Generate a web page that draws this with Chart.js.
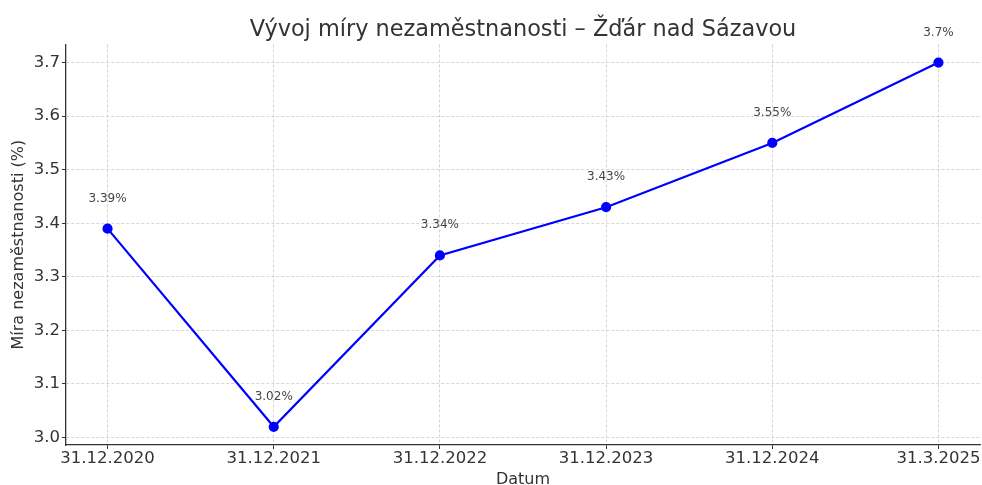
<!DOCTYPE html>
<html>
<head>
<meta charset="utf-8">
<script src="https://cdn.jsdelivr.net/npm/chart.js@4.4.1/dist/chart.umd.min.js"></script>
<style>
  html, body { margin: 0; padding: 0; background: #fff; }
  #wrap { width: 982px; height: 485px; }
</style>
</head>
<body>
<div id="wrap"><canvas id="chart" width="982" height="485"></canvas></div>
<script>
const dates = ["31.12.2020", "31.12.2021", "31.12.2022", "31.12.2023", "31.12.2024", "31.3.2025"];
const rates = [3.39, 3.02, 3.34, 3.43, 3.55, 3.7];
const yTicks = [3.0, 3.1, 3.2, 3.3, 3.4, 3.5, 3.6, 3.7];

const FONT = "'DejaVu Sans', sans-serif";
const TEXT = "#333333";
const GRID = "#cccccc";

// values written above every point
const pointLabels = {
  id: "pointLabels",
  afterDatasetsDraw(chart) {
    const ctx = chart.ctx;
    const meta = chart.getDatasetMeta(0);
    ctx.save();
    ctx.font = "12px " + FONT;
    ctx.fillStyle = "#444444";
    ctx.textAlign = "center";
    ctx.textBaseline = "alphabetic";
    meta.data.forEach((pt, i) => {
      ctx.fillText(rates[i] + "%", pt.x, pt.y - 27);
    });
    ctx.restore();
  }
};

const noPad = (scale) => {
  scale.paddingLeft = 0;
  scale.paddingRight = 0;
  scale.paddingTop = 0;
  scale.paddingBottom = 0;
};

const ctx = document.getElementById("chart").getContext("2d");
new Chart(ctx, {
  type: "line",
  data: {
    datasets: [{
      data: rates.map((v, i) => ({ x: i, y: v })),
      borderColor: "#0000ff",
      backgroundColor: "#0000ff",
      borderWidth: 2.2,
      pointRadius: 4,
      pointHoverRadius: 4,
      tension: 0,
      fill: false
    }]
  },
  options: {
    responsive: false,
    animation: false,
    events: [],
    layout: { autoPadding: false, padding: { left: 0, right: 2, top: 0, bottom: 0 } },
    plugins: {
      legend: { display: false },
      tooltip: { enabled: false },
      title: {
        display: true,
        fullSize: false,
        text: "Vývoj míry nezaměstnanosti – Žďár nad Sázavou",
        color: TEXT,
        font: { family: FONT, size: 22.4, weight: "normal", lineHeight: 1 },
        padding: { top: 19, bottom: 3 }
      }
    },
    scales: {
      x: {
        type: "linear",
        min: -0.25,
        max: 5.25,
        afterBuildTicks: (scale) => {
          scale.ticks = dates.map((d, i) => ({ value: i }));
        },
        afterFit: (scale) => { scale.height = 40; noPad(scale); },
        ticks: {
          callback: (v) => dates[v],
          color: TEXT,
          font: { family: FONT, size: 16.5, lineHeight: 1 },
          padding: 1,
          maxRotation: 0,
          autoSkip: false
        },
        grid: {
          color: GRID,
          lineWidth: 0.8,
          tickLength: 4,
          tickColor: TEXT,
          tickWidth: 1
        },
        border: { display: true, color: TEXT, width: 1.3, dash: [3, 2] },
        title: {
          display: true,
          text: "Datum",
          color: TEXT,
          font: { family: FONT, size: 16, lineHeight: 1 },
          padding: { top: 0, bottom: -3 }
        }
      },
      y: {
        type: "linear",
        min: 2.986,
        max: 3.734,
        afterBuildTicks: (scale) => {
          scale.ticks = yTicks.map(v => ({ value: v }));
        },
        afterFit: (scale) => { scale.width = 66; noPad(scale); },
        ticks: {
          callback: (v) => v.toFixed(1),
          color: TEXT,
          font: { family: FONT, size: 16.5 },
          padding: 2
        },
        grid: {
          color: GRID,
          lineWidth: 0.8,
          tickLength: 4,
          tickColor: TEXT,
          tickWidth: 1
        },
        border: { display: true, color: TEXT, width: 1.3, dash: [3, 2] },
        title: {
          display: true,
          text: "Míra nezaměstnanosti (%)",
          color: TEXT,
          font: { family: FONT, size: 16, lineHeight: 1 },
          padding: { top: 11, bottom: 0 }
        }
      }
    }
  },
  plugins: [pointLabels]
});
</script>
</body>
</html>
